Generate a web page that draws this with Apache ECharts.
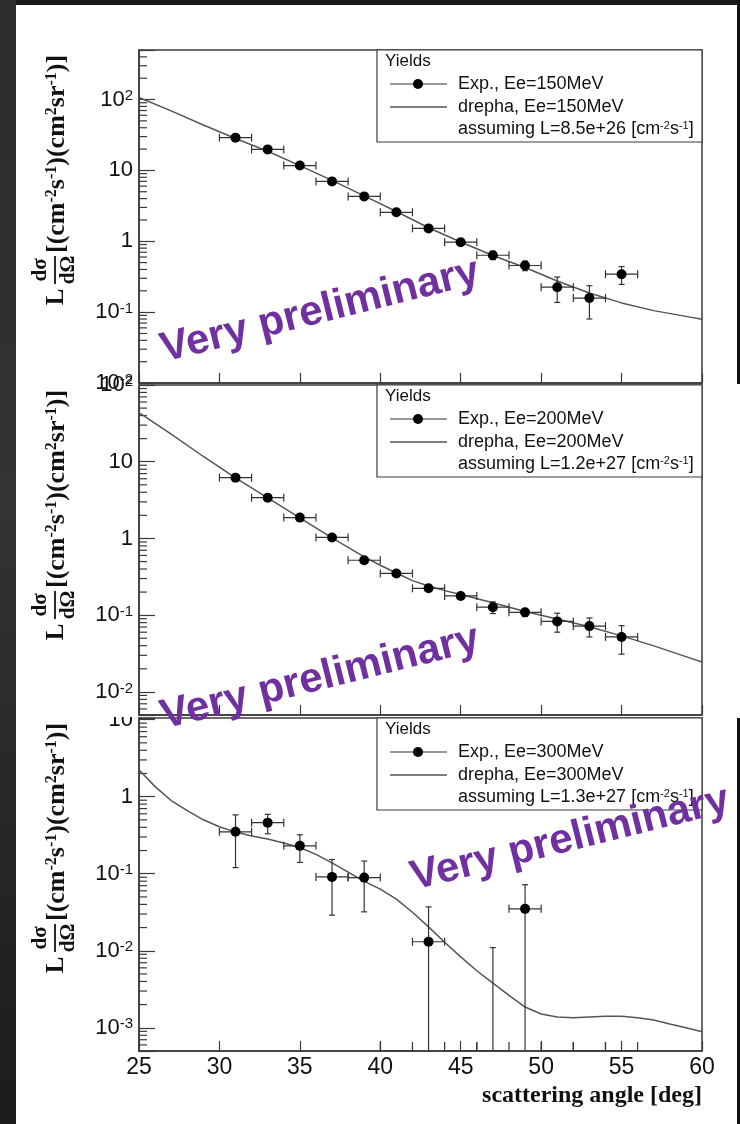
<!DOCTYPE html>
<html>
<head>
<meta charset="utf-8">
<script src="https://cdn.jsdelivr.net/npm/echarts@6/dist/echarts.min.js"></script>
<style>
  html, body { margin: 0; padding: 0; background: #ffffff; }
  #chart { width: 740px; height: 1124px; }
</style>
</head>
<body>
<div id="chart"></div>
<script>
// ---- measured yields (scattering angle in deg, value, stat. error) ----
const angles = [31, 33, 35, 37, 39, 41, 43, 45, 47, 49, 51, 53, 55];
const angleHalfWidth = 1;

const yield150 = [29.0, 19.8, 11.7, 7.0, 4.3, 2.56, 1.52, 0.97, 0.635, 0.455, 0.225, 0.158, 0.343];
const error150 = [1.1, 0.8, 0.45, 0.28, 0.17, 0.11, 0.10, 0.085, 0.085, 0.07, 0.088, 0.078, 0.097];

const yield200 = [6.2, 3.4, 1.87, 1.03, 0.52, 0.35, 0.224, 0.178, 0.127, 0.109, 0.083, 0.072, 0.052];
const error200 = [0.25, 0.14, 0.08, 0.045, 0.025, 0.018, 0.016, 0.015, 0.022, 0.013, 0.023, 0.02, 0.021];

const yield300 = [0.35, 0.46, 0.23, 0.091, 0.089, 0, 0.0131, 0, 0, 0.035, 0, 0, 0];
const error300 = [0.23, 0.13, 0.09, 0.062, 0.057, 0, 0.024, 0, 0.011, 0.037, 0, 0, 0];

// ---- drepha calculations ----
const thAngle150 = [25, 27, 29, 31, 33, 35, 37, 39, 41, 43, 45, 47, 49, 51, 53, 55, 57, 59, 60];
const theory150 = [107, 69.2, 43.7, 28.2, 18.6, 11.7, 7.24, 4.37, 2.63, 1.55, 0.977, 0.631, 0.427, 0.275, 0.186, 0.135, 0.105, 0.0871, 0.0794];

const thAngle200 = [25, 27, 29, 31, 33, 35, 37, 39, 40, 41, 42, 43, 44, 45, 47, 49, 51, 53, 55, 57, 59, 60];
const theory200 = [43.7, 22.9, 11.7, 6.17, 3.39, 1.86, 1.02, 0.575, 0.447, 0.355, 0.282, 0.240, 0.209, 0.186, 0.145, 0.112, 0.0891, 0.0708, 0.0537, 0.0398, 0.0288, 0.0245];

const thAngle300 = [25, 26, 27, 28, 29, 30, 31, 32, 33, 34, 35, 36, 37, 38, 39, 40, 41, 42, 43, 44, 45, 46, 47, 48, 49, 50, 51, 52, 53, 54, 55, 56, 57, 58, 59, 60];
const theory300 = [2.24, 1.35, 0.891, 0.661, 0.501, 0.407, 0.347, 0.309, 0.282, 0.251, 0.219, 0.178, 0.138, 0.105, 0.0794, 0.0631, 0.0468, 0.0316, 0.0204, 0.0129, 0.00832, 0.0055, 0.0038, 0.00263, 0.00186, 0.00151, 0.00138, 0.00135, 0.00138, 0.00141, 0.00141, 0.00135, 0.00126, 0.00112, 0.001, 0.000891];

// ---- axis ranges and tick labels ----
const xRange = [25, 60];
const xTickStep = 5;
const yRanges = [[0.01, 500], [0.005, 100], [0.0005, 10.5]];
const beamLabels = ['150MeV', '200MeV', '300MeV'];
const lumiLabels = ['8.5e+26', '1.2e+27', '1.3e+27'];

// ---- layout ----
const panels = [
  { top: 50, height: 333 },
  { top: 385, height: 330 },
  { top: 718, height: 333 }
];
const plotLeft = 139, plotWidth = 563;
const frameColor = '#3a3a3a';
const labelFont = 'Liberation Sans, Arial, Helvetica, sans-serif';
const serifFont = 'Liberation Serif, Times New Roman, serif';

function decadeLabel(v) {
  const lg = Math.log10(v);
  const e = Math.round(lg);
  if (Math.abs(lg - e) > 1e-6) return '';
  if (e === 0) return '1';
  if (e === 1) return '10';
  return '10{s|' + e + '}';
}

const grids = [], xAxes = [], yAxes = [], series = [];

panels.forEach((p, i) => {
  grids.push({
    left: plotLeft, top: p.top, width: plotWidth, height: p.height,
    show: true, borderColor: frameColor, borderWidth: 1.5, backgroundColor: 'transparent'
  });
  xAxes.push({
    type: 'value', gridIndex: i, min: xRange[0], max: xRange[1], interval: xTickStep,
    axisLine: { lineStyle: { color: frameColor, width: 1.5 } },
    axisTick: { inside: true, length: 10, lineStyle: { color: frameColor, width: 1.2 } },
    splitLine: { show: false },
    axisLabel: {
      show: i === 2, fontSize: 23, color: '#111', margin: 5, fontFamily: labelFont
    },
    name: i === 2 ? 'scattering angle [deg]' : '',
    nameLocation: 'end', nameGap: 0,
    nameTextStyle: {
      fontFamily: serifFont, fontWeight: 'bold', fontSize: 24, color: '#111',
      align: 'right', verticalAlign: 'top', padding: [33, 0, 0, 0]
    }
  });
  yAxes.push({
    type: 'log', logBase: 10, gridIndex: i, min: yRanges[i][0], max: yRanges[i][1],
    axisLine: { lineStyle: { color: frameColor, width: 1.5 } },
    axisTick: { inside: true, length: 16, lineStyle: { color: frameColor, width: 1.2 } },
    splitLine: { show: false },
    axisLabel: {
      fontSize: 22, color: '#111', margin: 6, fontFamily: labelFont,
      formatter: decadeLabel,
      rich: { s: { fontSize: 15, verticalAlign: 'top', fontFamily: labelFont, color: '#111' } }
    }
  });
});

// minor log ticks (2..9 within each decade) on the left axis
function minorTicks(idx) {
  const lo = yRanges[idx][0], hi = yRanges[idx][1];
  const vals = [];
  for (let d = Math.floor(Math.log10(lo)); d <= Math.ceil(Math.log10(hi)); d++) {
    for (let k = 2; k <= 9; k++) {
      const t = k * Math.pow(10, d);
      if (t > lo && t < hi) vals.push([xRange[0], t]);
    }
  }
  return {
    type: 'custom', xAxisIndex: idx, yAxisIndex: idx, silent: true, z: 3, data: vals,
    renderItem(params, api) {
      const pt = api.coord([api.value(0), api.value(1)]);
      return {
        type: 'line',
        shape: { x1: pt[0], y1: pt[1], x2: pt[0] + 8, y2: pt[1] },
        style: { stroke: frameColor, lineWidth: 1.2 }
      };
    }
  };
}

// data points with horizontal bin and vertical statistical error bars;
// points that fall below the log range sit on the lower frame edge
function measured(idx, vals, errs) {
  return {
    type: 'custom', xAxisIndex: idx, yAxisIndex: idx, clip: true, z: 6,
    data: angles.map((a, k) => [a, vals[k], errs[k]]),
    renderItem(params, api) {
      const a = api.value(0), v = api.value(1), e = api.value(2);
      const cs = params.coordSys;
      const bot = cs.y + cs.height;
      const py = w => (w > 0 ? api.coord([a, w])[1] : bot);
      const xc = api.coord([a, 1])[0];
      const xl = api.coord([a - angleHalfWidth, 1])[0];
      const xr = api.coord([a + angleHalfWidth, 1])[0];
      const yc = py(v);
      const st = { stroke: '#333', lineWidth: 1.2 };
      const cap = v > 0 ? 4 : 9;
      const kids = [
        { type: 'line', shape: { x1: xl, y1: yc, x2: xr, y2: yc }, style: st },
        { type: 'line', shape: { x1: xl, y1: yc - cap, x2: xl, y2: yc + cap }, style: st },
        { type: 'line', shape: { x1: xr, y1: yc - cap, x2: xr, y2: yc + cap }, style: st }
      ];
      if (e > 0) {
        const yt = py(v + e), yb = py(v - e);
        kids.push({ type: 'line', shape: { x1: xc, y1: yt, x2: xc, y2: yb }, style: st });
        kids.push({ type: 'line', shape: { x1: xc - 3, y1: yt, x2: xc + 3, y2: yt }, style: st });
        if (v - e > 0) kids.push({ type: 'line', shape: { x1: xc - 3, y1: yb, x2: xc + 3, y2: yb }, style: st });
      }
      if (v > 0) kids.push({ type: 'circle', shape: { cx: xc, cy: yc, r: 5 }, style: { fill: '#000' } });
      return { type: 'group', children: kids };
    }
  };
}

function theory(idx, xs, ys) {
  return {
    type: 'line', xAxisIndex: idx, yAxisIndex: idx, z: 4,
    data: xs.map((x, k) => [x, ys[k]]),
    showSymbol: false, smooth: false, clip: true,
    lineStyle: { color: '#555', width: 1.5 }, silent: true
  };
}

series.push(theory(0, thAngle150, theory150), theory(1, thAngle200, theory200), theory(2, thAngle300, theory300));
series.push(measured(0, yield150, error150), measured(1, yield200, error200), measured(2, yield300, error300));
series.push(minorTicks(0), minorTicks(1), minorTicks(2));

// ---- decorations: frame strips, legends, axis titles, watermark ----
const graphics = [];

// dark slide background around the plot sheet
graphics.push({ type: 'rect', z: -10, shape: { x: 0, y: 0, width: 740, height: 5 }, style: { fill: '#1b1b1b' } });
graphics.push({
  type: 'rect', z: -10, shape: { x: 0, y: 0, width: 16, height: 1124 },
  style: { fill: new echarts.graphic.LinearGradient(0, 0, 0, 1, [
    { offset: 0, color: '#2c2c2c' }, { offset: 0.45, color: '#333333' }, { offset: 1, color: '#1c1c1c' }
  ]) }
});
graphics.push({ type: 'rect', z: -10, shape: { x: 737, y: 0, width: 3, height: 384 }, style: { fill: '#111' } });
graphics.push({ type: 'rect', z: -10, shape: { x: 737, y: 718, width: 3, height: 406 }, style: { fill: '#111' } });

// sheet edge between middle and lower pad hides top of the lower pad's first label
graphics.push({ type: 'rect', z: 50, shape: { x: 96, y: 703, width: 41, height: 14 }, style: { fill: '#fff' } });

const supRich = { s: { fontSize: 11, verticalAlign: 'top', fontFamily: labelFont, fill: '#111' } };

panels.forEach((p, i) => {
  const T = p.top;
  const lx = 377;
  graphics.push({
    type: 'rect', z: 20,
    shape: { x: lx, y: T, width: plotLeft + plotWidth - lx, height: 92 },
    style: { fill: '#fff', stroke: frameColor, lineWidth: 1.2 }
  });
  graphics.push({ type: 'text', z: 21, x: 385, y: T + 11,
    style: { text: 'Yields', font: '17px ' + labelFont, fill: '#111', verticalAlign: 'middle' } });
  graphics.push({ type: 'line', z: 21, shape: { x1: 390, y1: T + 34, x2: 447, y2: T + 34 },
    style: { stroke: '#333', lineWidth: 1.2 } });
  graphics.push({ type: 'circle', z: 22, shape: { cx: 418, cy: T + 34, r: 5 }, style: { fill: '#000' } });
  graphics.push({ type: 'text', z: 21, x: 458, y: T + 34,
    style: { text: 'Exp., Ee=' + beamLabels[i], font: '18px ' + labelFont, fill: '#111', verticalAlign: 'middle' } });
  graphics.push({ type: 'line', z: 21, shape: { x1: 390, y1: T + 57, x2: 447, y2: T + 57 },
    style: { stroke: '#555', lineWidth: 1.5 } });
  graphics.push({ type: 'text', z: 21, x: 458, y: T + 57,
    style: { text: 'drepha, Ee=' + beamLabels[i], font: '18px ' + labelFont, fill: '#111', verticalAlign: 'middle' } });
  graphics.push({ type: 'text', z: 21, x: 458, y: T + 79,
    style: {
      text: 'assuming L=' + lumiLabels[i] + ' [cm{s|-2}s{s|-1}]',
      font: '18px ' + labelFont, fill: '#111', verticalAlign: 'middle', rich: supRich
    } });

  // rotated y-axis title: L dσ/dΩ [(cm^-2 s^-1)(cm^2 sr^-1)]
  const yb = T + 256;
  const titleRich = {
    s: { fontSize: 16, verticalAlign: 'top', fontFamily: serifFont, fontWeight: 'bold', fill: '#111' }
  };
  graphics.push({
    type: 'group', z: 20, x: 0, y: yb, rotation: Math.PI / 2,
    children: [
      { type: 'text', x: 9, y: 57, style: { text: 'L', font: 'bold 25px ' + serifFont, fill: '#111', align: 'center', verticalAlign: 'middle' } },
      { type: 'text', x: 36, y: 41, style: { text: 'dσ', font: 'bold 21px ' + serifFont, fill: '#111', align: 'center', verticalAlign: 'middle' } },
      { type: 'line', shape: { x1: 22, y1: 55, x2: 50, y2: 55 }, style: { stroke: '#111', lineWidth: 1.8 } },
      { type: 'text', x: 36, y: 69, style: { text: 'dΩ', font: 'bold 21px ' + serifFont, fill: '#111', align: 'center', verticalAlign: 'middle' } },
      { type: 'text', x: 53, y: 57, style: {
        text: '[(cm{s|-2}s{s|-1})(cm{s|2}sr{s|-1})]', font: 'bold 26px ' + serifFont, fill: '#111',
        align: 'left', verticalAlign: 'middle', rich: titleRich } }
    ]
  });
});

// "Very preliminary" stamps
[[320, 311], [320, 678], [570, 839]].forEach(c => {
  graphics.push({
    type: 'text', z: 100, x: c[0], y: c[1], rotation: 0.245,
    style: { text: 'Very preliminary', font: 'bold 42px ' + labelFont, fill: '#7030a0', align: 'center', verticalAlign: 'middle' }
  });
});

const chart = echarts.init(document.getElementById('chart'), null, { renderer: 'canvas' });
chart.setOption({
  animation: false,
  backgroundColor: '#ffffff',
  grid: grids,
  xAxis: xAxes,
  yAxis: yAxes,
  series: series,
  graphic: graphics
});
</script>
</body>
</html>
